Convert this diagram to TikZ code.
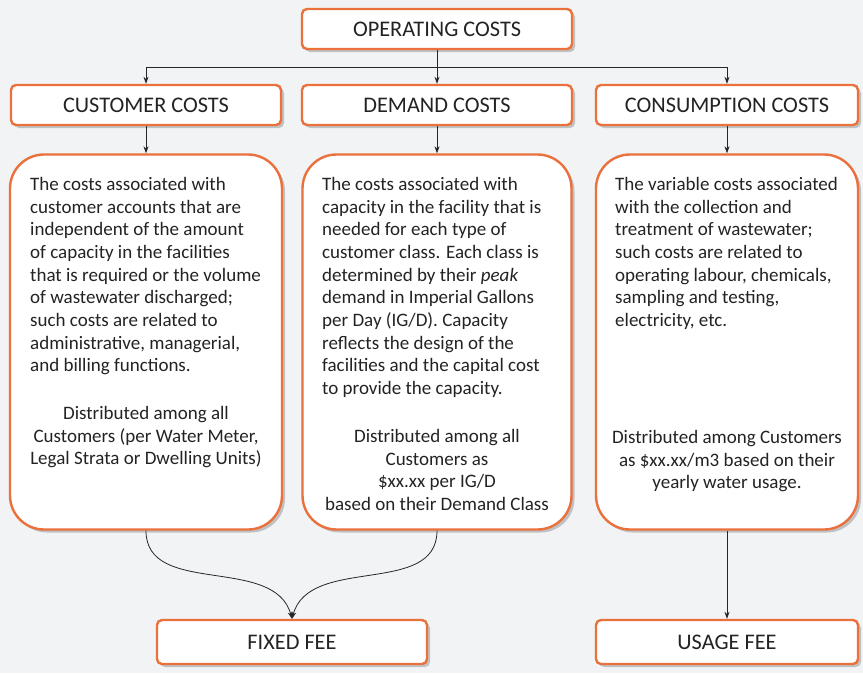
\documentclass[tikz,border=0pt]{standalone}
\usepackage{fontspec}
\setmainfont{Carlito}
\usetikzlibrary{positioning,shadows,arrows.meta}
\definecolor{costorange}{RGB}{234,112,60}
\definecolor{pagegray}{RGB}{241,243,244}
\definecolor{inkgray}{RGB}{35,35,35}
\newcommand{\headfont}{\fontsize{22.3}{24}\selectfont}
\newcommand{\bodyfont}{\fontsize{19}{22.7}\selectfont}
\tikzset{
  costshadow/.style={drop shadow={shadow xshift=3pt,shadow yshift=-3pt,fill=black!40,opacity=.55}},
  headbox/.style={draw=costorange, line width=2.4pt, rounded corners=5pt, fill=white,
    minimum height=40pt, text=inkgray, font=\headfont, costshadow},
  bigbox/.style={draw=costorange, line width=2.4pt, rounded corners=34pt, fill=white,
    minimum height=375pt, costshadow},
  desc/.style={anchor=north west, align=left, inner sep=0pt, text=inkgray, font=\bodyfont},
  dist/.style={anchor=north, align=center, inner sep=0pt, text=inkgray, font=\bodyfont},
  link/.style={-{Stealth[length=7pt,width=5pt]}, line width=.8pt, black!85}
}
\begin{document}
\begin{tikzpicture}[x=1pt,y=-1pt]
  \fill[pagegray] (0,0) rectangle (863,673);
  % top and the three kinds of cost
  \node[headbox, minimum width=270pt] (opc) at (437,29) {OPERATING COSTS};
  \node[headbox, minimum width=270pt] (cust) at (146,105) {CUSTOMER COSTS};
  \node[headbox, minimum width=270pt] (dem) at (437,105) {DEMAND COSTS};
  \node[headbox, minimum width=262pt] (cons) at (727,105) {CONSUMPTION COSTS};
  % the three big boxes
  \node[bigbox, minimum width=272pt] (custbox) at (146,342) {};
  \node[bigbox, minimum width=269pt] (dembox) at (437,342) {};
  \node[bigbox, minimum width=262pt] (consbox) at (727,342) {};
  % fees
  \node[headbox, minimum width=270pt, minimum height=44pt] (fixed) at (292,642) {FIXED FEE};
  \node[headbox, minimum width=262pt, minimum height=44pt] (usage) at (727,642) {USAGE FEE};
  % texts
  \node[desc] (custtext) at (30,177) {The costs associated with\\
    customer accounts that are\\
    independent of the amount\\
    of capacity in the facilities\\
    that is required or the volume\\
    of wastewater discharged;\\
    such costs are related to\\
    administrative, managerial,\\
    and billing functions.};
  \node[dist] (custdist) at (146,406) {Distributed among all\\
    Customers (per Water Meter,\\
    Legal Strata or Dwelling Units)};
  \node[desc] (demtext) at (322,177) {The costs associated with\\
    capacity in the facility that is\\
    needed for each type of\\
    customer class. Each class is\\
    determined by their \emph{peak}\\
    demand in Imperial Gallons\\
    per Day (IG/D). Capacity\\
    reflects the design of the\\
    facilities and the capital cost\\
    to provide the capacity.};
  \node[dist] (demdist) at (437,429) {Distributed among all\\
    Customers as\\
    \$xx.xx per IG/D\\
    based on their Demand Class};
  \node[desc] (constext) at (615,177) {The variable costs associated\\
    with the collection and\\
    treatment of wastewater;\\
    such costs are related to\\
    operating labour, chemicals,\\
    sampling and testing,\\
    electricity, etc.};
  \node[dist] (consdist) at (727,430) {Distributed among Customers\\
    as \$xx.xx/m3 based on their\\
    yearly water usage.};
  % connectors
  \coordinate (split) at (437,67);
  \draw[line width=.8pt, black!85] (opc.south) -- (split);
  \draw[link] (split) -| (cust.north);
  \draw[link] (split) -- (dem.north);
  \draw[link] (split) -| (cons.north);
  \draw[link] (cust.south) -- (custbox.north);
  \draw[link] (dem.south) -- (dembox.north);
  \draw[link] (cons.south) -- (consbox.north);
  \draw[link] (custbox.south) to[out=-90,in=105] (fixed.north);
  \draw[link] (dembox.south) to[out=-90,in=75] (fixed.north);
  \draw[link] (consbox.south) -- (usage.north);
\end{tikzpicture}
\end{document}
